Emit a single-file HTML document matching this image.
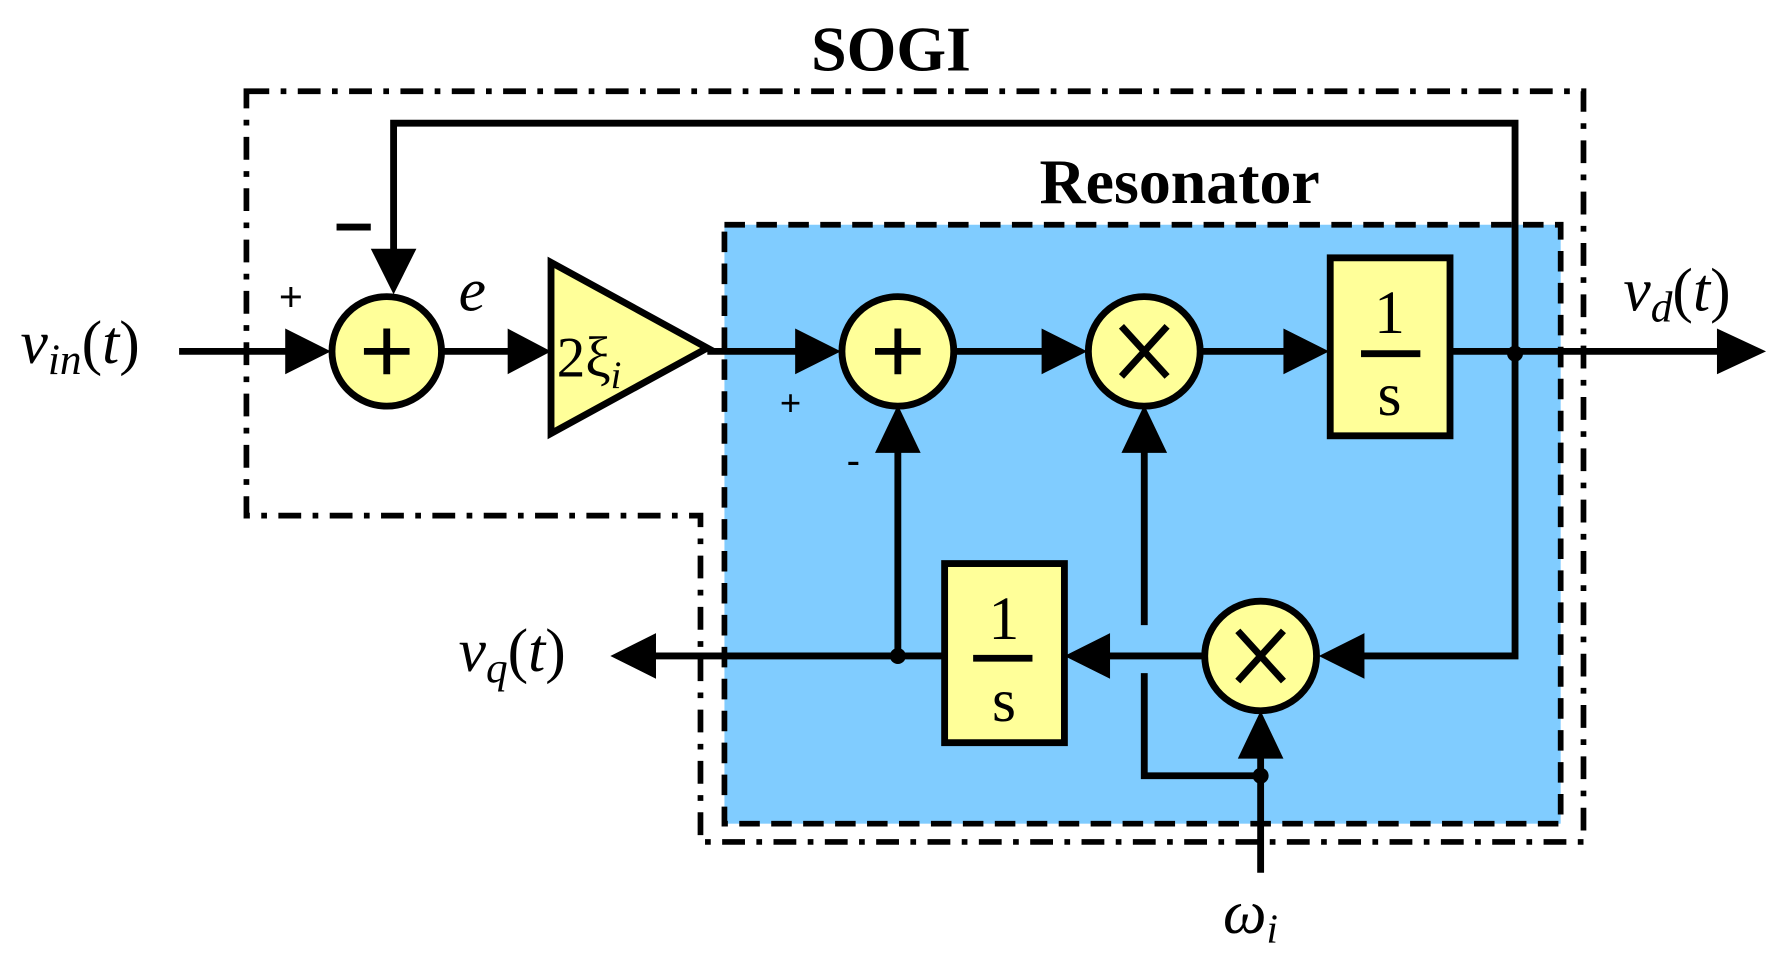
<!DOCTYPE html>
<html><head><style>html,body{margin:0;padding:0;background:#fff}svg{display:block}</style></head>
<body>
<svg width="1782" height="964" viewBox="0 0 1562 845" preserveAspectRatio="none" xmlns="http://www.w3.org/2000/svg" font-family="Liberation Serif, serif">
<rect x="635" y="197" width="733" height="525" fill="#80CCFF" stroke="#000" stroke-width="5" stroke-dasharray="18,10"/>
<path d="M216,80 H1388 V738 H614 V452 H216 Z" fill="none" stroke="#000" stroke-width="5" stroke-dasharray="20,10,5,10"/>
<text x="781" y="62" font-size="56" font-weight="bold" text-anchor="middle">SOGI</text>
<text x="1034" y="178" font-size="56" font-weight="bold" text-anchor="middle">Resonator</text>

<g stroke="#000" stroke-width="6" fill="none">
<line x1="157" y1="308" x2="260" y2="308"/>
<line x1="388" y1="308" x2="455" y2="308"/>
<line x1="620" y1="308" x2="710" y2="308"/>
<line x1="837" y1="308" x2="925" y2="308"/>
<line x1="1053" y1="308" x2="1140" y2="308"/>
<line x1="1272" y1="308" x2="1515" y2="308"/>
<polyline points="1328,308 1328,108 345,108 345,225"/>
<polyline points="1328,308 1328,575 1190,575"/>
<line x1="1055" y1="575" x2="965" y2="575"/>
<line x1="827" y1="575" x2="570" y2="575"/>
<line x1="787" y1="575" x2="787" y2="385"/>
<polyline points="1003,390 1003,548"/>
<polyline points="1003,590 1003,680 1105,680"/>
<line x1="1105" y1="765" x2="1105" y2="655"/>
</g>
<g fill="#000">
<polygon points="290,308 250,288 250,328"/>
<polygon points="483,308 445,288 445,328"/>
<polygon points="737,308 697,288 697,328"/>
<polygon points="953,308 913,288 913,328"/>
<polygon points="1165,308 1125,288 1125,328"/>
<polygon points="1548,308 1505,288 1505,328"/>
<polygon points="345,258 325,218 365,218"/>
<polygon points="1156,575 1196,555 1196,595"/>
<polygon points="933,575 973,555 973,595"/>
<polygon points="535,575 575,555 575,595"/>
<polygon points="787,355 767,397 807,397"/>
<polygon points="1003,355 983,397 1023,397"/>
<polygon points="1105,623 1085,665 1125,665"/>
<circle cx="1328" cy="310" r="7"/>
<circle cx="787" cy="575" r="7"/>
<circle cx="1105" cy="680" r="7"/>
</g>
<g stroke="#000" stroke-width="6" fill="#FFFF99">
<ellipse cx="339" cy="308" rx="48" ry="48"/>
<ellipse cx="787" cy="308" rx="49" ry="48"/>
<ellipse cx="1003" cy="308" rx="49" ry="48"/>
<ellipse cx="1105" cy="575" rx="49" ry="48"/>
<polygon points="483,230 483,380 620,305"/>
<rect x="1166" y="226" width="105" height="156"/>
<rect x="828" y="494" width="105" height="157"/>
</g>
<g stroke="#000" stroke-width="6">
<line x1="319" y1="308" x2="359" y2="308"/><line x1="339" y1="288" x2="339" y2="328"/>
<line x1="767" y1="308" x2="807" y2="308"/><line x1="787" y1="288" x2="787" y2="328"/>
<line x1="983" y1="286" x2="1023" y2="330"/><line x1="1023" y1="286" x2="983" y2="330"/>
<line x1="1085" y1="553" x2="1125" y2="597"/><line x1="1125" y1="553" x2="1085" y2="597"/>
<line x1="1193" y1="310" x2="1245" y2="310"/>
<line x1="853" y1="577" x2="905" y2="577"/>
<line x1="295" y1="199" x2="325" y2="199"/>
</g>
<g font-size="54">
<text x="1218" y="292" text-anchor="middle">1</text>
<text x="1218" y="364" text-anchor="middle">s</text>
<text x="880" y="560" text-anchor="middle">1</text>
<text x="880" y="632" text-anchor="middle">s</text>
<text x="18" y="318" font-style="italic">v<tspan font-size="38" dy="10">in</tspan><tspan font-style="normal" dy="-10">(</tspan>t<tspan font-style="normal">)</tspan></text>
<text x="1423" y="272" font-style="italic">v<tspan font-size="38" dy="10">d</tspan><tspan font-style="normal" dy="-10">(</tspan>t<tspan font-style="normal">)</tspan></text>
<text x="402" y="588" font-style="italic">v<tspan font-size="38" dy="10">q</tspan><tspan font-style="normal" dy="-10">(</tspan>t<tspan font-style="normal">)</tspan></text>
<text x="402" y="272" font-style="italic">e</text>
<text x="1072" y="818" font-style="italic">ω<tspan font-size="36" dy="8">i</tspan></text>
<text x="488" y="330" font-size="50">2ξ<tspan font-style="italic" font-size="34" dy="10">i</tspan></text>
</g>
<g font-family="Liberation Sans, sans-serif">
<text x="255" y="272" font-size="36" text-anchor="middle">+</text>
<text x="693" y="364" font-size="32" text-anchor="middle">+</text>
<text x="748" y="416" font-size="36" text-anchor="middle">-</text>
</g>
</svg>
</body></html>
